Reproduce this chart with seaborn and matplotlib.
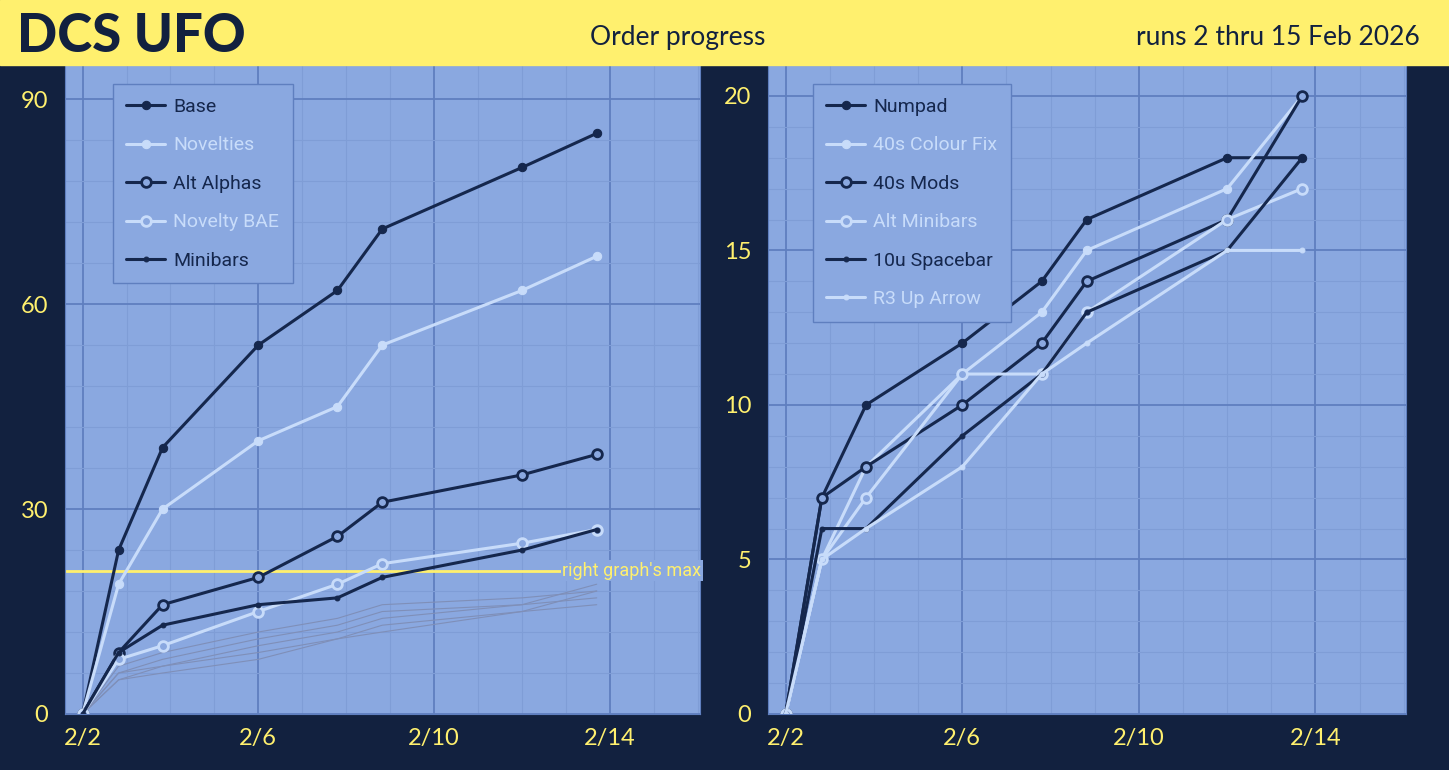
import matplotlib
matplotlib.use("Agg")
import matplotlib.pyplot as plt
import seaborn as sns
import numpy as np
import pandas as pd
from matplotlib.ticker import MultipleLocator

days = [0, 0.82, 1.82, 4, 5.8, 6.82, 10, 11.7]
xticks = [0, 4, 8, 12]
xticklabels = ["2/2", "2/6", "2/10", "2/14"]

left_names = ["Base", "Novelties", "Alt Alphas", "Novelty BAE", "Minibars"]
base = [0, 24, 39, 54, 62, 71, 80, 85]
novelties = [0, 19, 30, 40, 45, 54, 62, 67]
alt_alphas = [0, 9, 16, 20, 26, 31, 35, 38]
novelty_bae = [0, 8, 10, 15, 19, 22, 25, 27]
minibars = [0, 9, 13, 16, 17, 20, 24, 27]
grey1 = [0, 7, 9, 12, 14, 16, 17, 18]
grey2 = [0, 6, 8, 11, 13, 15, 16, 19]
grey3 = [0, 5, 7, 10, 12, 14, 16, 17]
grey4 = [0, 6, 7, 9, 11, 13, 15, 16]
grey5 = [0, 5, 6, 8, 11, 12, 15, 18]

right_names = ["Numpad", "40s Colour Fix", "40s Mods", "Alt Minibars", "10u Spacebar", "R3 Up Arrow"]
numpad = [0, 7, 10, 12, 14, 16, 18, 18]
colour_fix = [0, 5, 8, 11, 13, 15, 17, 20]
mods40 = [0, 7, 8, 10, 12, 14, 16, 20]
alt_mini = [0, 5, 7, 11, 11, 13, 16, 17]
spacebar = [0, 6, 6, 9, 11, 13, 15, 18]
r3 = [0, 5, 6, 8, 11, 12, 15, 15]
right_max = 21

NAVY = "#12213f"; DARK = "#15274d"; LIGHT = "#c8dcfa"; AX = "#8aa8e0"; YEL = "#fff06e"
styles = [(DARK, "filled"), (LIGHT, "filled"), (DARK, "open"), (LIGHT, "open"), (DARK, "small"), (LIGHT, "small")]

sns.set_style("white")
plt.rcParams['font.family'] = ['Lato', 'DejaVu Sans']
fig = plt.figure(figsize=(14.49, 7.70), dpi=100, facecolor=NAVY)
fig.patches.append(plt.Rectangle((0, 1-65/770), 1, 65/770, transform=fig.transFigure, color=YEL, zorder=0))
fig.text(0.012, 0.953, "DCS UFO", fontsize=38, fontweight="black", color=NAVY, va="center", family=["Lato"])
fig.text(0.468, 0.951, "Order progress", fontsize=19, color=NAVY, va="center", ha="center")
fig.text(0.98, 0.951, "runs 2 thru 15 Feb 2026", fontsize=19, color=NAVY, va="center", ha="right")

def setup(ax, ymax, ystep):
    ax.set_facecolor(AX)
    ax.set_xlim(-0.4, 14.05)
    ax.set_ylim(0, ymax)
    ax.xaxis.set_minor_locator(MultipleLocator(1))
    ax.yaxis.set_minor_locator(MultipleLocator(ystep / 5))
    ax.set_xticks(xticks); ax.set_xticklabels(xticklabels)
    ax.yaxis.set_major_locator(MultipleLocator(ystep))
    ax.grid(which="major", color="#5f7fbf", lw=1.3)
    ax.grid(which="minor", color="#7f9dd6", lw=0.8)
    ax.set_axisbelow(True)
    ax.tick_params(colors=YEL, labelsize=17, length=0, labelcolor=YEL)
    ax.tick_params(axis="x", pad=10)
    ax.tick_params(axis="y", pad=12)
    for s in ax.spines.values():
        s.set_color("#5f7fbf")
    ax.set_xlabel(""); ax.set_ylabel("")

def draw(ax, name, vals, st):
    c, kind = st
    df = pd.DataFrame({"d": days, "v": vals})
    if kind == "filled":
        kw = dict(marker="o", markersize=6, markerfacecolor=c, markeredgecolor=c)
    elif kind == "open":
        kw = dict(marker="o", markersize=7, markerfacecolor=AX, markeredgecolor=c, markeredgewidth=2)
    else:
        kw = dict(marker="o", markersize=3.5, markerfacecolor=c, markeredgecolor=c)
    sns.lineplot(data=df, x="d", y="v", ax=ax, color=c, lw=2.2, label=name, **kw)

axL = fig.add_axes([65/1449, 56/770, 635/1449, 649/770])
axR = fig.add_axes([768/1449, 56/770, 638/1449, 649/770])
for g in [grey1, grey2, grey3, grey4, grey5]:
    sns.lineplot(x=days, y=g, ax=axL, color="#7f8fb8", lw=0.8, legend=False)
for n, v, st in zip(left_names, [base, novelties, alt_alphas, novelty_bae, minibars], styles):
    draw(axL, n, v, st)
axL.axhline(right_max, color=YEL, lw=2, zorder=1)
axL.text(12.5, right_max, "right graph's max", color=YEL, fontsize=13, va="center", ha="center",
         family=["Roboto"], fontstretch="condensed",
         bbox=dict(facecolor=AX, edgecolor="none", pad=1))
setup(axL, 95, 30)
axL.set_yticks([0, 30, 60, 90])

for n, v, st in zip(right_names, [numpad, colour_fix, mods40, alt_mini, spacebar, r3], styles):
    draw(axR, n, v, st)
setup(axR, 21, 5)

for ax in (axL, axR):
    leg = ax.legend(loc="upper left", bbox_to_anchor=(0.06, 0.985) if ax is axL else (0.055, 0.985),
                    frameon=True, fontsize=14, labelspacing=1.05, handlelength=2.0, handletextpad=0.4,
                    borderpad=0.7, prop={"family": "Roboto", "size": 14, "stretch": "condensed"})
    leg.get_frame().set_facecolor(AX); leg.get_frame().set_edgecolor("#5f7fbf"); leg.get_frame().set_alpha(1)
    leg.get_frame().set_boxstyle("square", pad=0)
    for t, st in zip(leg.get_texts(), styles):
        t.set_color(st[0])

fig.savefig("out.png", dpi=100, facecolor=NAVY)
